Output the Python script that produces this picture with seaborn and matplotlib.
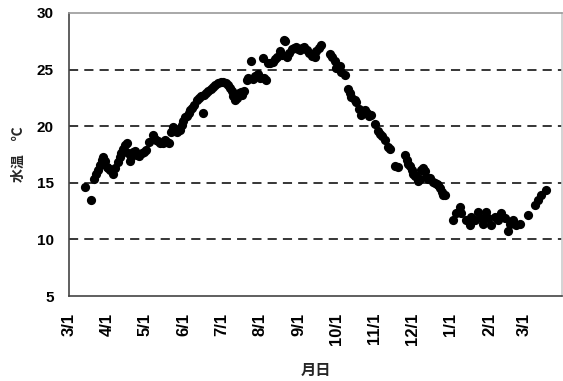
import datetime as dt
import numpy as np
import pandas as pd
import matplotlib
matplotlib.use("Agg")
import matplotlib.pyplot as plt
import matplotlib.dates as mdates
import seaborn as sns

# ---- data (days since 3/1, water temperature in deg C) ----
start_date = "2010-03-01"
day = [12.6, 17.4, 20.3, 21.6, 23.5, 25, 26.5, 27.5, 28.8, 30.2, 31.5, 32.8, 35, 37,
       39.5, 40.8, 42, 43.5, 45, 46.2, 47.5, 48.8, 50, 51.5, 53, 54.2, 56, 58.2, 60,
       61.6, 64, 67, 68.5, 69.7, 71, 72.9, 75.5, 77, 78.5, 80.3, 82, 83.5, 85, 86.7,
       88.9, 90.2, 91.5, 92.9, 94.2, 96, 96.9, 98.2, 100, 102.2, 104, 106, 107.5, 108.5,
       110, 111.5, 113.5, 115.5, 117, 119.5, 121.5, 123.5, 125.5, 127.5, 129, 130.2,
       131.5, 132.9, 134.5, 136, 137.5, 139, 140.1, 142.3, 143.5, 145.5, 147.1, 149,
       151.6, 153, 155.1, 156.5, 157.7, 159.6, 161, 163.1, 165, 166.3, 168.9, 170.5,
       172.1, 173, 174.8, 176.5, 178.3, 180, 181.7, 183.5, 184.9, 186.3, 188, 190.3,
       192, 194.3, 195.6, 197, 198.3, 200, 202.3, 209, 211, 213, 214.3, 215.6, 217,
       218.3, 221, 223.6, 225, 226.3, 228.9, 230.3, 232, 234.3, 235.5, 237, 239, 240.5,
       242.3, 245, 247.6, 249, 250.4, 253, 255.6, 257, 261.5, 263.5, 269, 270.5, 271.7,
       273, 274.5, 275.7, 277, 278.4, 279.7, 281, 282.4, 284, 285, 286.4, 288, 289.5,
       291.7, 293, 294.5, 295.7, 297, 298.5, 299.7, 301, 307.7, 310.4, 313, 314.4,
       318.4, 321, 322.4, 325, 327.7, 330.4, 331.7, 334.4, 335.7, 338.4, 341, 343.7,
       346.4, 349.1, 351.7, 353, 355.7, 358.4, 361.1, 367.7, 373.1, 375.8, 378.4, 382.4]
temp = [14.6, 13.5, 15.3, 15.8, 16.1, 16.6, 17.0, 17.3, 16.9, 16.4, 16.3, 16.1, 15.8, 16.3,
        16.8, 17.3, 17.6, 18.0, 18.3, 18.5, 17.6, 16.9, 17.3, 17.7, 17.8, 17.5, 17.4, 17.6, 17.7,
        17.9, 18.6, 19.2, 19.0, 18.8, 18.7, 18.5, 18.5, 18.8, 18.6, 18.5, 19.5, 19.9, 19.7, 19.5,
        19.7, 20.1, 20.5, 20.8, 20.9, 21.2, 21.4, 21.6, 21.9, 22.3, 22.5, 22.7, 21.2, 22.8,
        22.9, 23.1, 23.3, 23.5, 23.6, 23.8, 23.9, 23.9, 23.8, 23.6, 23.4, 23.1,
        22.7, 22.3, 22.5, 22.9, 23.0, 22.8, 23.1, 24.1, 24.3, 25.8, 24.2, 24.4,
        24.6, 24.3, 26.0, 24.3, 24.1, 25.6, 25.6, 25.7, 25.9, 26.1, 26.6, 26.3,
        27.6, 27.5, 26.1, 26.5, 26.8, 26.9, 27.0, 26.8, 26.7, 26.9, 27.0, 26.7,
        26.5, 26.2, 26.4, 26.1, 26.6, 26.9, 27.2, 26.4, 26.1, 25.8, 25.1, 25.2, 25.3,
        24.8, 24.5, 23.3, 22.9, 22.6, 22.3, 22.1, 21.5, 21.0, 21.3, 21.4, 21.2, 20.9,
        21.0, 20.2, 19.6, 19.3, 19.1, 18.8, 18.2, 18.0, 16.5, 16.4, 17.5, 17.0, 16.7,
        16.5, 16.1, 15.8, 15.6, 15.6, 15.2, 15.3, 16.1, 16.3, 16.0, 15.5, 15.3, 15.4,
        15.1, 15.0, 14.9, 14.8, 14.5, 14.2, 13.9, 13.9, 11.7, 12.3, 12.9, 12.3,
        11.7, 11.3, 12.0, 11.7, 12.45, 11.9, 11.4, 12.45, 11.9, 11.3, 12.0, 11.7,
        12.3, 11.9, 10.7, 11.4, 11.7, 11.3, 11.4, 12.15, 13.0, 13.5, 13.9, 14.4]
tick_dates = ["2010-03-01", "2010-04-01", "2010-05-01", "2010-06-01", "2010-07-01",
              "2010-08-01", "2010-09-01", "2010-10-01", "2010-11-01", "2010-12-01",
              "2011-01-01", "2011-02-01", "2011-03-01"]
tick_labels = ["3/1", "4/1", "5/1", "6/1", "7/1", "8/1", "9/1", "10/1", "11/1",
               "12/1", "1/1", "2/1", "3/1"]
y_ticks = [5, 10, 15, 20, 25, 30]
grid_levels = [10, 15, 20, 25]

df = pd.DataFrame({"date": pd.Timestamp(start_date) + pd.to_timedelta(day, unit="D"),
                   "temp": temp})

sns.set_style("white")
plt.rcParams["font.family"] = ["Liberation Sans", "Noto Sans CJK JP", "DejaVu Sans"]

fig = plt.figure(figsize=(5.63, 3.81), dpi=100)
ax = fig.add_axes([69 / 563, 1 - 296 / 381, (562 - 69) / 563, (296 - 13) / 381])

for g in grid_levels:
    ax.axhline(g, color="black", lw=1.1, ls=(0, (6, 4)), zorder=1)

sns.scatterplot(data=df, x="date", y="temp", ax=ax, color="black", s=44,
                edgecolor="black", linewidth=0, zorder=3, legend=False)

ax.set_xlim(pd.Timestamp("2010-03-01"), pd.Timestamp("2011-03-31"))
ax.set_ylim(5, 30)
ax.set_yticks(y_ticks)
ax.set_yticklabels([str(v) for v in y_ticks], fontsize=11, fontweight="bold",
                   family="Liberation Sans")
ax.set_xticks([pd.Timestamp(d) for d in tick_dates])
ax.set_xticklabels(tick_labels, rotation=90, fontsize=12, fontweight="bold",
                   family="Liberation Sans")
ax.tick_params(axis="x", direction="in", length=4, width=1, pad=12, colors="#333333",
               labelcolor="black")
ax.tick_params(axis="y", direction="in", length=0, pad=11, labelcolor="black")

for side, col in [("left", "#444444"), ("bottom", "#444444"), ("top", "#999999"),
                  ("right", "#cccccc")]:
    ax.spines[side].set_visible(True)
    ax.spines[side].set_color(col)
    ax.spines[side].set_linewidth(1.2)

ax.set_xlabel("月日", fontsize=11, fontweight="bold",
              family=["Noto Sans CJK JP", "DejaVu Sans"])
ax.set_ylabel("水温　℃", fontsize=10, fontweight="bold",
              family=["Noto Sans CJK JP", "DejaVu Sans"])
ax.xaxis.set_label_coords(0.5, -0.232)
ax.yaxis.set_label_coords(-0.087, 0.5)

fig.savefig("out.png", dpi=100)
